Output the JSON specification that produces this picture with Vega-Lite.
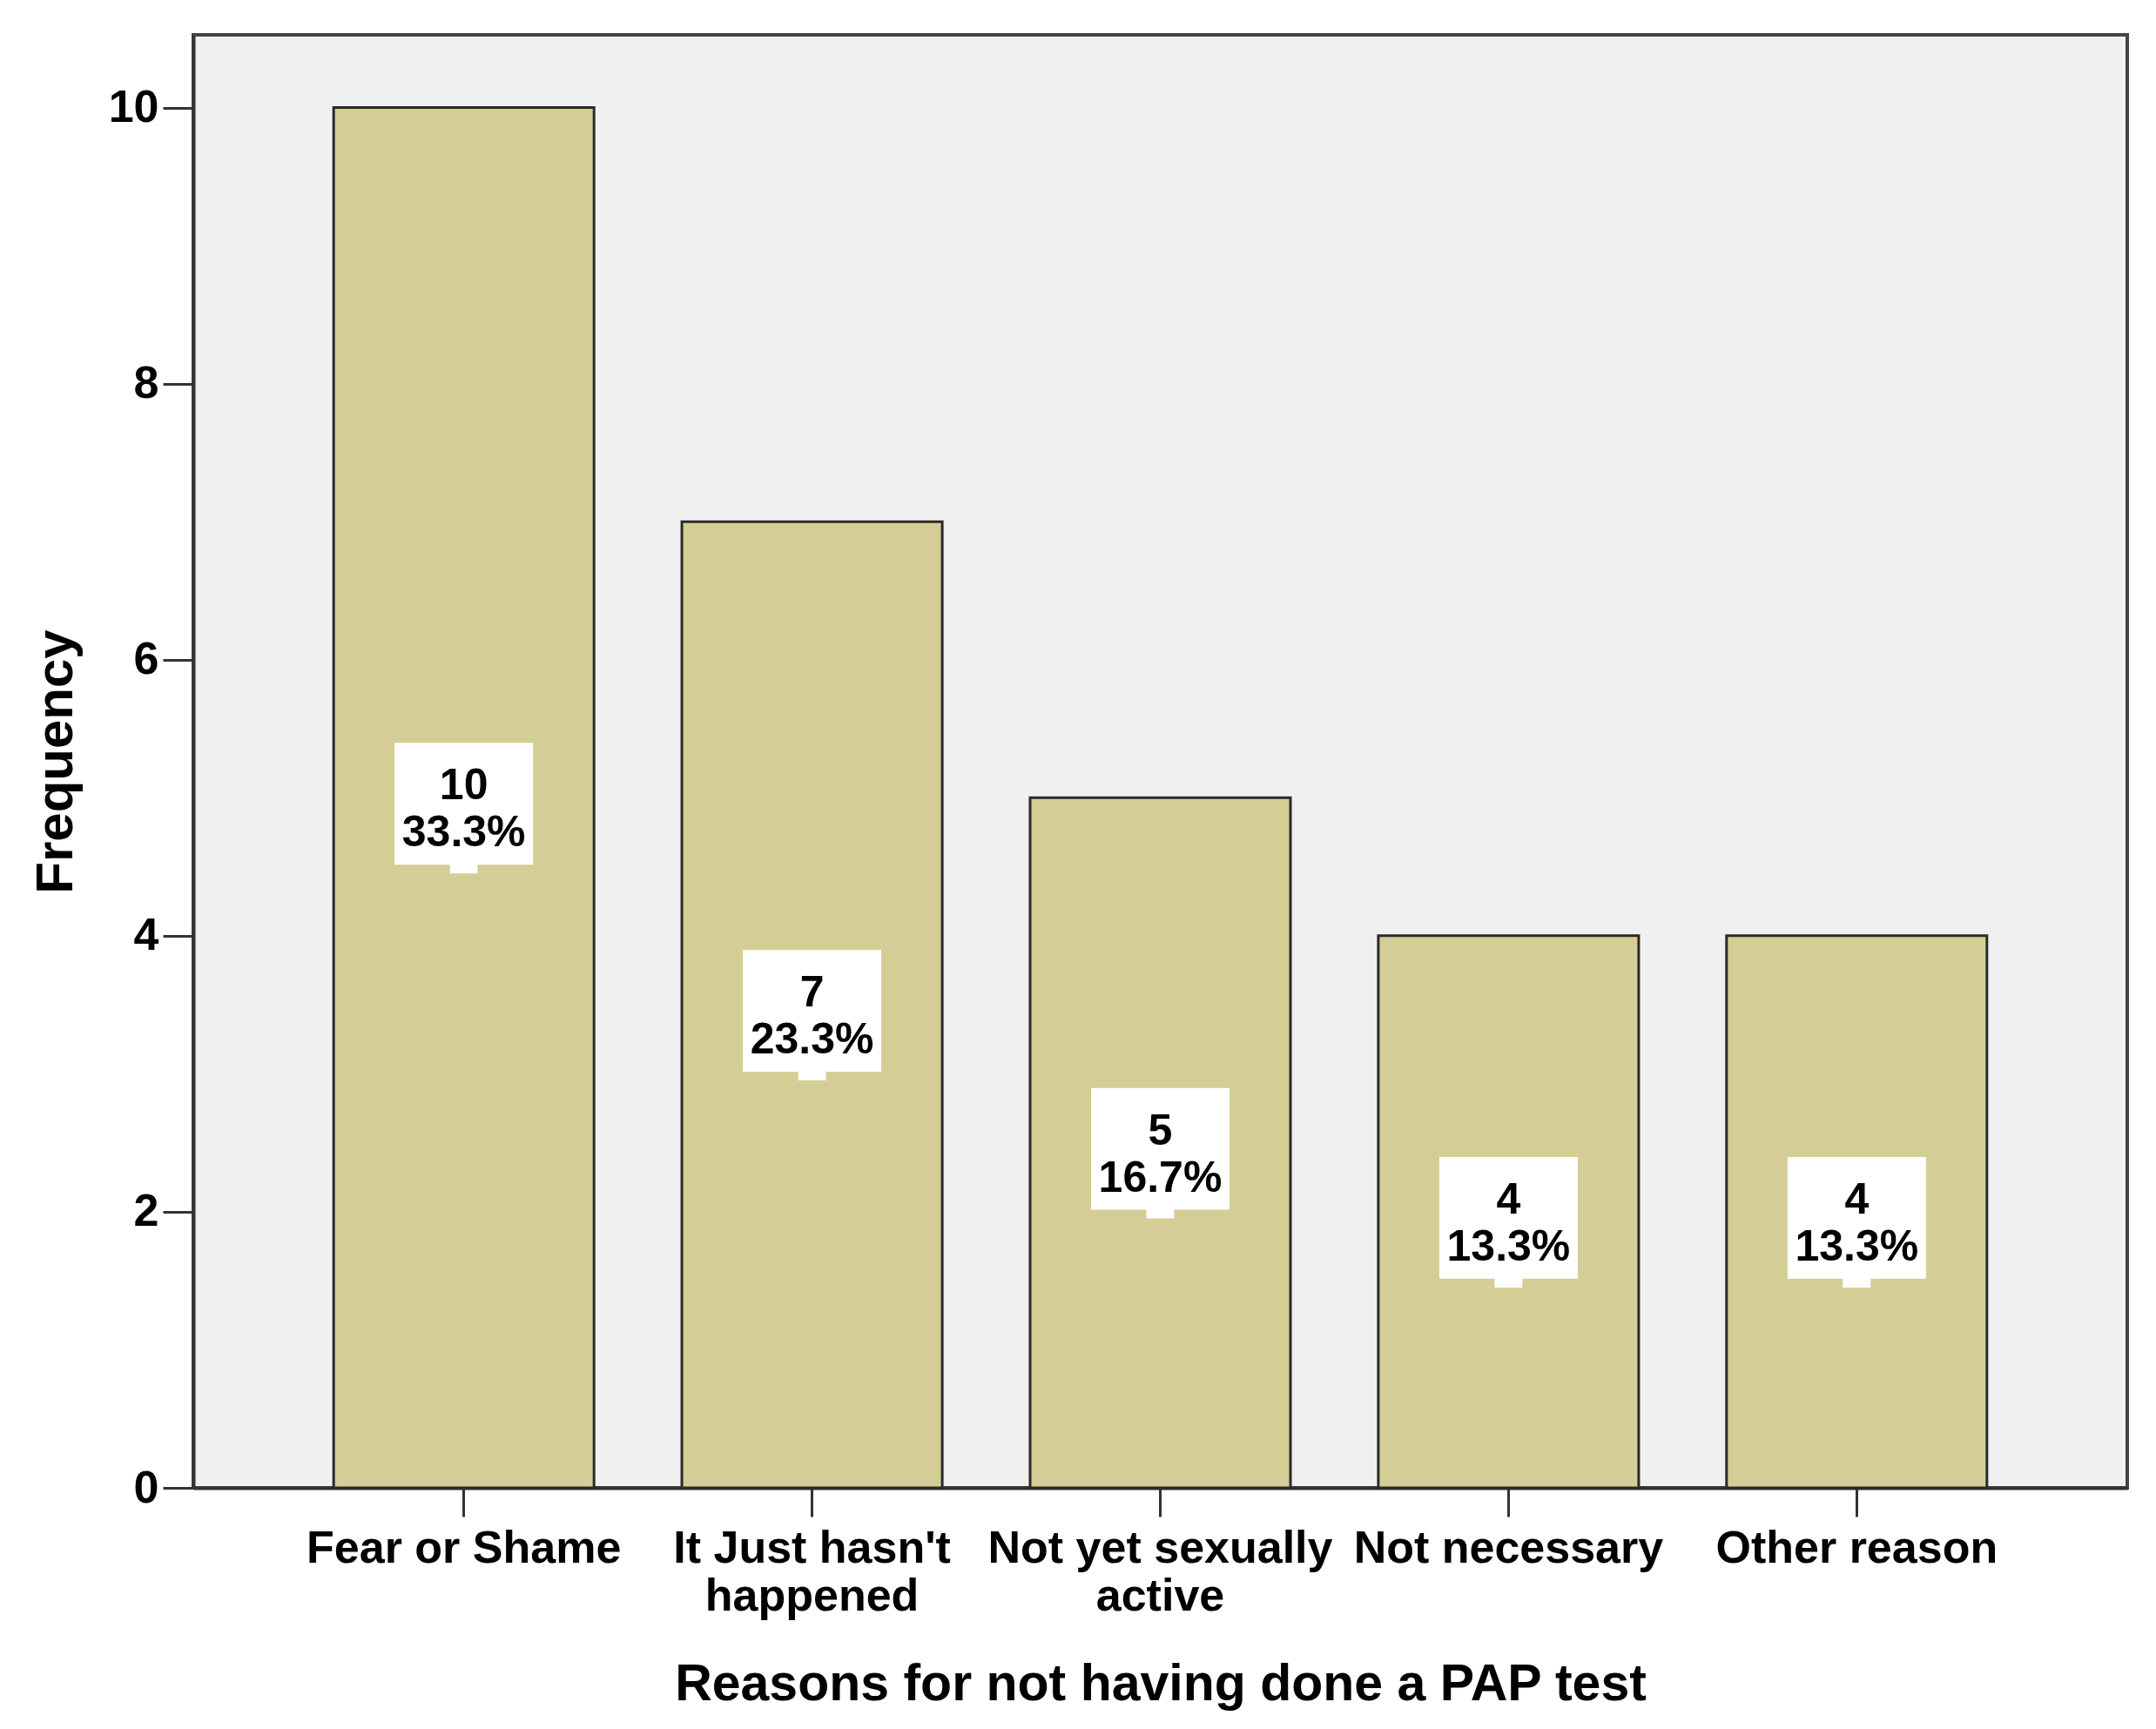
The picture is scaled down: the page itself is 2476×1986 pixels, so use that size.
{
  "$schema": "https://vega.github.io/schema/vega-lite/v6.json",
  "autosize": {"type": "none"},
  "width": 2221,
  "height": 1669,
  "padding": {"left": 222, "top": 40, "right": 33, "bottom": 277},
  "background": "white",
  "config": {
    "view": {"fill": "#F0F0F0", "stroke": "#444444", "strokeWidth": 4},
    "font": "Liberation Sans"
  },
  "data": {
    "values": [
      {"reason": "Fear or Shame", "count": 10, "pct": "33.3%"},
      {"reason": "It Just hasn't happened", "count": 7, "pct": "23.3%"},
      {"reason": "Not yet sexually active", "count": 5, "pct": "16.7%"},
      {"reason": "Not necessary", "count": 4, "pct": "13.3%"},
      {"reason": "Other reason", "count": 4, "pct": "13.3%"}
    ]
  },
  "encoding": {
    "x": {
      "field": "reason",
      "type": "nominal",
      "sort": null,
      "scale": {"paddingInner": 0.2523, "paddingOuter": 0.403},
      "axis": {
        "title": "Reasons for not having done a PAP test",
        "titleFont": "Liberation Sans",
        "titleFontSize": 59,
        "titleFontWeight": "bold",
        "titleColor": "#000000",
        "titleBaseline": "alphabetic",
        "titleAlign": "center",
        "titleX": 1110.5,
        "titleY": 243,
        "labelAngle": 0,
        "labelFont": "Liberation Sans",
        "labelFontSize": 52,
        "labelFontWeight": "bold",
        "labelColor": "#000000",
        "labelPadding": 11,
        "labelLineHeight": 55,
        "labelLimit": 0,
        "labelOverlap": false,
        "labelBound": false,
        "labelExpr": "datum.value == \"It Just hasn't happened\" ? [\"It Just hasn't\", \"happened\"] : (datum.value == \"Not yet sexually active\" ? [\"Not yet sexually\", \"active\"] : datum.label)",
        "domainColor": "#333333",
        "domainWidth": 4,
        "tickColor": "#333333",
        "tickWidth": 3,
        "tickSize": 33
      }
    }
  },
  "layer": [
    {
      "mark": {"type": "bar", "fill": "#D4CE96", "stroke": "#2a2a2a", "strokeWidth": 3},
      "encoding": {
        "y": {
          "field": "count",
          "type": "quantitative",
          "scale": {"domain": [0, 10.527], "nice": false, "zero": true},
          "axis": {
            "values": [0, 2, 4, 6, 8, 10],
            "grid": false,
            "title": "Frequency",
            "titleFont": "Liberation Sans",
            "titleFontSize": 60,
            "titleFontWeight": "bold",
            "titleColor": "#000000",
            "titleBaseline": "alphabetic",
            "titleAlign": "center",
            "titleAngle": -90,
            "titleX": -140,
            "titleY": 834.5,
            "labelFont": "Liberation Sans",
            "labelFontSize": 52,
            "labelFontWeight": "bold",
            "labelColor": "#000000",
            "labelPadding": 5,
            "domainColor": "#333333",
            "domainWidth": 4,
            "tickColor": "#333333",
            "tickWidth": 3,
            "tickSize": 35
          }
        }
      }
    },
    {
      "layer": [
        {
          "mark": {
            "type": "point",
            "shape": "M-1,-0.88H1V0.88H0.2V1.006H-0.2V0.88H-1Z",
            "size": 25281,
            "filled": true,
            "fill": "#FFFFFF",
            "opacity": 1,
            "strokeWidth": 0,
            "yOffset": 7
          },
          "encoding": {
            "y": {"field": "count", "type": "quantitative", "scale": {"domain": [0, 21.054], "nice": false}, "axis": null}
          }
        },
        {
          "mark": {"type": "text", "font": "Liberation Sans", "fontSize": 50, "fontWeight": "bold", "color": "#000000", "baseline": "alphabetic", "align": "center", "yOffset": 2},
          "encoding": {
            "y": {"field": "count", "type": "quantitative", "scale": {"domain": [0, 21.054], "nice": false}, "axis": null},
            "text": {"field": "count", "type": "quantitative"}
          }
        },
        {
          "mark": {"type": "text", "font": "Liberation Sans", "fontSize": 50, "fontWeight": "bold", "color": "#000000", "baseline": "alphabetic", "align": "center", "yOffset": 56},
          "encoding": {
            "y": {"field": "count", "type": "quantitative", "scale": {"domain": [0, 21.054], "nice": false}, "axis": null},
            "text": {"field": "pct", "type": "nominal"}
          }
        }
      ]
    }
  ],
  "resolve": {"scale": {"y": "independent"}, "axis": {"y": "independent"}}
}
